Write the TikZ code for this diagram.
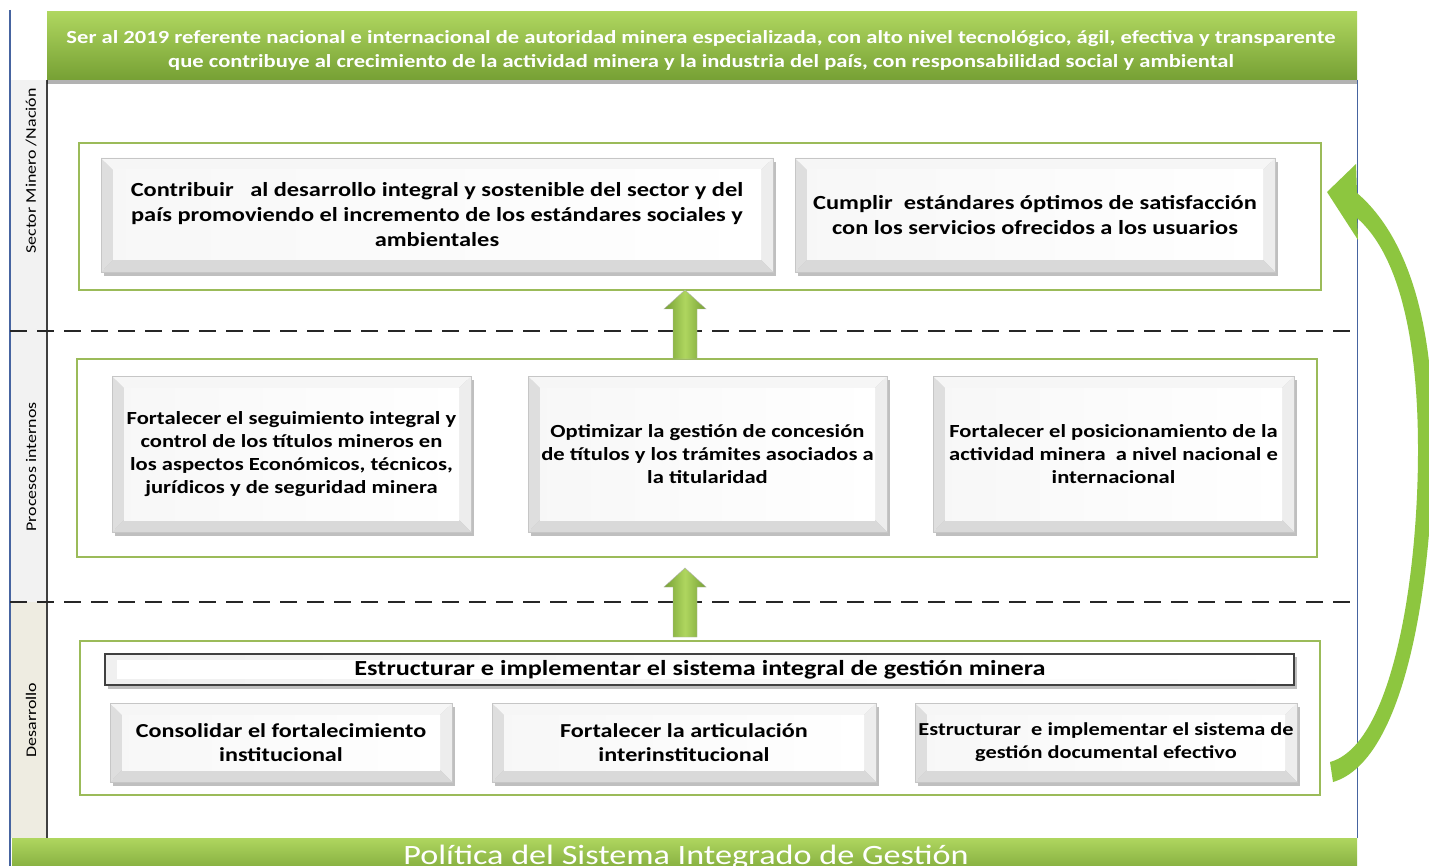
\documentclass[tikz,border=0pt]{standalone}
\usepackage{fontspec}
\setmainfont{Carlito}[FakeStretch=1.22]
\usetikzlibrary{calc}
\definecolor{ogreen}{RGB}{155,187,89}
\definecolor{bgreen}{RGB}{141,198,63}
\definecolor{lblue}{RGB}{70,100,160}
\definecolor{colgray}{RGB}{242,242,242}
\definecolor{colbeige}{RGB}{238,236,225}
\definecolor{bantop}{RGB}{175,214,95}
\definecolor{banbot}{RGB}{118,160,52}
\tikzset{
  greenframe/.style={draw=ogreen,line width=2.6pt},
  sepline/.style={line width=2.6pt,dash pattern=on 17pt off 10pt,black!85},
  btext/.style={align=center,font=\bfseries,text=black,inner sep=0pt},
  seclabel/.style={rotate=90,font=\fontsize{14.7}{18}\selectfont,inner sep=0pt},
  uparrow/.style={draw=black!30,line width=0.4pt,left color=banbot,right color=banbot,middle color=bantop},
}
\newcommand\bvbox[7]{%
  \fill[black,opacity=0.25] (#2+3,#3+4) rectangle (#4+3,#5+4);
  \fill[gray!26] (#2,#3) -- (#2+12,#3+12) -- (#2+12,#5-12) -- (#2,#5) -- cycle;
  \fill[gray!7] (#2,#3) -- (#4,#3) -- (#4-12,#3+12) -- (#2+12,#3+12) -- cycle;
  \fill[gray!14] (#4,#3) -- (#4,#5) -- (#4-12,#5-12) -- (#4-12,#3+12) -- cycle;
  \fill[gray!30] (#2,#5) -- (#4,#5) -- (#4-12,#5-12) -- (#2+12,#5-12) -- cycle;
  \fill[left color=gray!6,right color=white] (#2+12,#3+12) rectangle (#4-12,#5-12);
  \draw[gray!45,line width=0.5pt] (#2,#3) rectangle (#4,#5);
  \node[btext,font=#7] (#1) at ({(#2+#4)/2},{(#3+#5)/2}) {#6};
}
\begin{document}
\begin{tikzpicture}[x=1pt,y=-1pt]
\useasboundingbox (0,0) rectangle (1429,866);
\fill[white] (0,0) rectangle (1429,866);
% left column
\fill[colgray] (10,80) rectangle (47,602);
\fill[colbeige] (10,602) rectangle (47,838);
\draw[lblue,line width=1.6pt] (10,10) -- (10,866);
\draw[black!75,line width=1.2pt] (47,80) -- (47,838);
\draw[lblue,line width=1pt] (1357,80) -- (1357,838);
% top banner
\fill[black,opacity=0.3] (47,80) rectangle (1357,84);
\shade[top color=bantop,bottom color=banbot] (47,12) rectangle (1357,80);
\node[align=center,text=white,font=\bfseries\fontsize{18.5}{24}\selectfont,inner sep=0pt] (vision) at (701,50)
 {Ser al 2019 referente nacional e internacional de autoridad minera especializada, con alto nivel tecnológico, ágil, efectiva y transparente\\
  que contribuye al crecimiento de la actividad minera y la industria del país, con responsabilidad social y ambiental};
% bottom banner
\shade[top color=bantop,bottom color=banbot] (12,838) rectangle (1357,880);
\node[text=white,font=\fontsize{28}{30}\selectfont,anchor=base,inner sep=0pt] (politica) at (686,864) {Política del Sistema Integrado de Gestión};
% section labels
\node[seclabel] (lab1) at (31,171) {Sector Minero /Nación};
\node[seclabel] (lab2) at (31,467) {Procesos internos};
\node[seclabel] (lab3) at (31,720) {Desarrollo};
% separators
\draw[sepline] (10,331) -- (1357,331);
\draw[sepline] (10,602) -- (1357,602);
% frames
\draw[greenframe] (79,143) rectangle (1321,290);
\draw[greenframe] (77,359) rectangle (1317,557);
\draw[greenframe] (80,641) rectangle (1320,795);
% top boxes
\bvbox{t1}{101}{158}{773}{272}{Contribuir \ \ al desarrollo integral y sostenible del sector y del\\país promoviendo el incremento de los estándares sociales y\\ambientales}{\bfseries\fontsize{20}{25}\selectfont}
\bvbox{t2}{795}{158}{1275}{272}{Cumplir \ estándares óptimos de satisfacción\\con los servicios ofrecidos a los usuarios}{\bfseries\fontsize{20}{25}\selectfont}
% middle boxes
\bvbox{m1}{112}{376}{471}{532}{Fortalecer el seguimiento integral y\\control de los títulos mineros en\\los aspectos Económicos, técnicos,\\jurídicos y de seguridad minera}{\bfseries\fontsize{18.5}{23}\selectfont}
\bvbox{m2}{528}{376}{887}{532}{Optimizar la gestión de concesión\\de títulos y los trámites asociados a\\la titularidad}{\bfseries\fontsize{18.5}{23}\selectfont}
\bvbox{m3}{933}{376}{1294}{532}{Fortalecer el posicionamiento de la\\actividad minera \ a nivel nacional e\\internacional}{\bfseries\fontsize{18.5}{23}\selectfont}
% bottom title bar
\fill[black,opacity=0.25] (108,657) rectangle (1297,689);
\fill[left color=gray!12,right color=white] (105,654) rectangle (1294,685);
\fill[white] (117,660) rectangle (1288,679);
\draw[black!75,line width=1.6pt] (105,654) rectangle (1294,685);
\node[btext,font=\bfseries\fontsize{21.5}{24}\selectfont] (dtitle) at (700,670) {Estructurar e implementar el sistema integral de gestión minera};
% bottom boxes
\bvbox{b1}{110}{703}{452}{782}{Consolidar el fortalecimiento\\institucional}{\bfseries\fontsize{19.8}{24}\selectfont}
\bvbox{b2}{492}{703}{876}{782}{Fortalecer la articulación\\interinstitucional}{\bfseries\fontsize{19.8}{24}\selectfont}
\bvbox{b3}{915}{703}{1297}{782}{Estructurar \ e implementar el sistema de\\gestión documental efectivo}{\bfseries\fontsize{18.3}{23}\selectfont}
% up arrows
\coordinate (a1) at (685,290);
\coordinate (a2) at (685,568);
\foreach \c in {a1,a2}{
  \path[uparrow] (\c) -- ++(21,19) -- ++(-9,0) -- ++(0,50) -- ++(-24,0) -- ++(0,-50) -- ++(-9,0) -- cycle;
}
% curved return arrow
\coordinate (ctip) at (1327,192);
\fill[bgreen] (ctip) -- (1356,164) -- (1357,193)
  .. controls (1398,228) and (1432,300) .. (1433,430)
  .. controls (1434,570) and (1408,760) .. (1333,782)
  -- (1330,762)
  .. controls (1392,745) and (1418,580) .. (1418,450)
  .. controls (1418,330) and (1396,252) .. (1357,218)
  -- (1358,240) -- cycle;
\end{tikzpicture}
\end{document}
